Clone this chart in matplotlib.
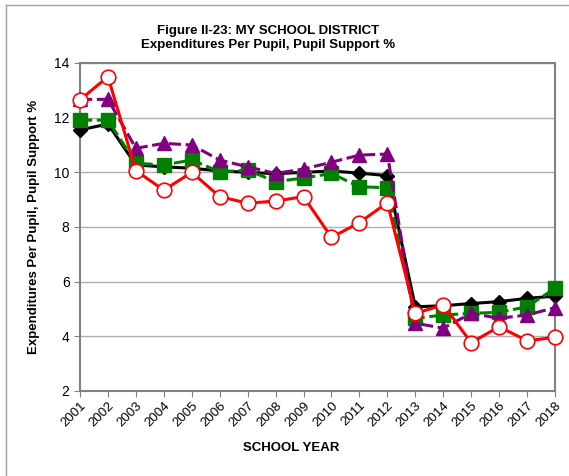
import matplotlib.pyplot as plt
from matplotlib.lines import Line2D

plt.rcParams['font.family'] = ['Liberation Sans', 'DejaVu Sans']

years = list(range(2001, 2019))
black = [11.55, 11.77, 10.27, 10.2, 10.15, 10.05, 10.0, 9.95, 10.0, 10.05,
         9.97, 9.88, 5.08, 5.12, 5.2, 5.27, 5.39, 5.47]
green = [11.91, 11.91, 10.33, 10.27, 10.45, 10.02, 10.08, 9.66, 9.79, 9.96,
         9.47, 9.44, 4.66, 4.78, 4.84, 4.88, 5.08, 5.76]
purple = [12.67, 12.67, 10.88, 11.06, 11.0, 10.45, 10.2, 9.96, 10.12, 10.37,
          10.63, 10.67, 4.48, 4.3, 4.84, 4.66, 4.78, 5.05]
red = [12.65, 13.5, 10.06, 9.35, 10.0, 9.11, 8.87, 8.95, 9.11, 7.62,
       8.16, 8.89, 4.84, 5.15, 3.77, 4.35, 3.84, 3.96]

fig = plt.figure(figsize=(5.69, 4.76), dpi=100)
ax = fig.add_axes([80 / 569, 1 - 391 / 476, 475 / 569, 328 / 476])

ax.plot(years, black, color='black', lw=2.2, marker='D', ms=7.5, zorder=3, clip_on=False)
ax.plot(years, green, color='green', lw=2.2, ls=(0, (4, 1.5)), marker='s', ms=9.5,
        zorder=4, clip_on=False)
ax.plot(years, purple, color='purple', lw=2.2, ls=(0, (4, 1.5)), marker='^', ms=10.5,
        zorder=5, clip_on=False)
ax.plot(years, red, color='red', lw=2.2, marker='o', ms=10.5, mfc='white', mec='red',
        mew=1.2, zorder=6, clip_on=False)

ax.set_xlim(2001, 2018)
ax.set_ylim(2, 14)
ax.set_yticks(range(2, 15, 2))
ax.set_xticks(years)
ax.set_xticklabels([str(y) for y in years], rotation=45, ha='right',
                   rotation_mode='anchor', fontsize=9.5)
ax.tick_params(axis='y', labelsize=10, length=4, color='#808080')
ax.tick_params(axis='x', length=4, color='#808080', pad=2)
ax.grid(axis='y', color='#b0b0b0', lw=1)
ax.set_axisbelow(True)
for s in ax.spines.values():
    s.set_color('#808080')
    s.set_linewidth(1.5)

ax.set_ylabel('Expenditures Per Pupil, Pupil Support %', fontsize=9.5,
              fontweight='bold', labelpad=10)
fig.text(268 / 569, 1 - 38 / 476, 'Figure II-23: MY SCHOOL DISTRICT\nExpenditures Per Pupil, Pupil Support %',
         ha='center', va='center', fontsize=9.5, fontweight='bold', linespacing=1.2)
fig.text(291 / 569, 1 - 448 / 476, 'SCHOOL YEAR', ha='center', va='center',
         fontsize=9.5, fontweight='bold')

fig.add_artist(Line2D([6 / 569, 1], [1 - 5 / 476, 1 - 5 / 476], color='#a0a0a0', lw=1))
fig.add_artist(Line2D([6 / 569, 6 / 569], [0, 1 - 5 / 476], color='#a0a0a0', lw=1))

fig.savefig('out.png', dpi=100)
